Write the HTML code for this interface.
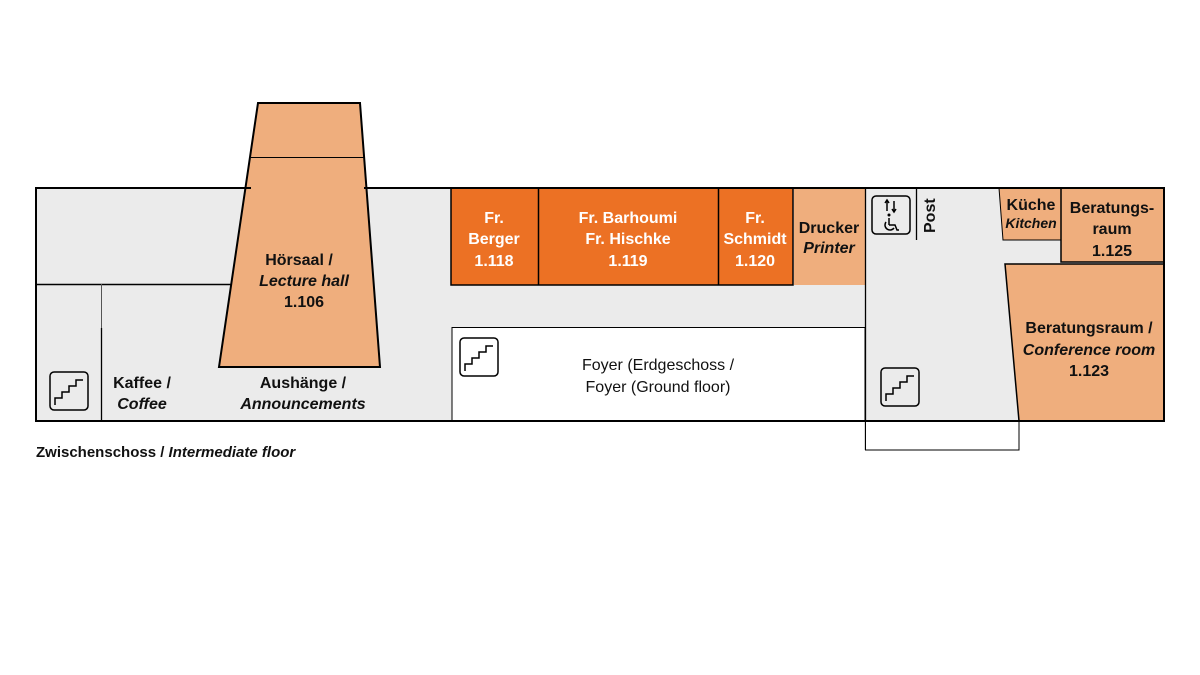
<!DOCTYPE html>
<html><head><meta charset="utf-8"><style>
html,body{margin:0;padding:0;background:#fff;width:1200px;height:675px;overflow:hidden}
svg{display:block}
text{font-family:"Liberation Sans Narrow","Liberation Sans",sans-serif;font-size:16px;fill:#111}
.b{font-weight:bold}
.i{font-style:italic}
.w{fill:#fff}
</style></head><body>
<svg width="1200" height="675" viewBox="0 0 1200 675">
<rect x="36" y="188" width="1128" height="233" fill="#ebebeb"/>
<line x1="36" y1="284.5" x2="233" y2="284.5" stroke="#000" stroke-width="1.5"/>
<line x1="101.5" y1="284" x2="101.5" y2="421" stroke="#555" stroke-width="1"/>
<line x1="101.5" y1="328" x2="101.5" y2="421" stroke="#000" stroke-width="1.3"/>
<polygon points="258,103 360,103 380,367 219,367" fill="#efae7d" stroke="#000" stroke-width="2"/>
<line x1="251" y1="157.5" x2="364" y2="157.5" stroke="#000" stroke-width="1"/>
<rect x="451" y="188" width="342" height="97" fill="#ec7124" stroke="#000" stroke-width="1.5"/>
<line x1="538.5" y1="188" x2="538.5" y2="285" stroke="#000" stroke-width="1.5"/>
<line x1="718.5" y1="188" x2="718.5" y2="285" stroke="#000" stroke-width="1.5"/>
<rect x="794" y="189" width="71" height="96" fill="#efae7d"/>
<rect x="452" y="327.5" width="413" height="93.5" fill="#fff" stroke="#000" stroke-width="1"/>
<line x1="865.5" y1="188" x2="865.5" y2="450" stroke="#000" stroke-width="1.3"/>
<rect x="865.5" y="421" width="153.5" height="29" fill="#fff" stroke="#000" stroke-width="1"/>
<line x1="916.5" y1="188" x2="916.5" y2="240" stroke="#000" stroke-width="1.3"/>
<polygon points="999,188 1061,188 1061,240 1003,240" fill="#efae7d" stroke="#000" stroke-width="1"/>
<rect x="1061" y="188" width="103" height="74" fill="#efae7d" stroke="#000" stroke-width="1.5"/>
<polygon points="1005,264 1164,264 1164,421 1019,421" fill="#efae7d" stroke="#000" stroke-width="1.5"/>
<polyline points="251,188 36,188 36,421 1164,421 1164,188 364,188" fill="none" stroke="#000" stroke-width="2"/>
<g fill="none" stroke="#000" stroke-width="1.5">
<rect x="50" y="372" width="38" height="38" rx="4"/>
<polyline points="55,405 55,398 62,398 62,392 69,392 69,386 76,386 76,380 83,380"/>
<rect x="460" y="338" width="38" height="38" rx="4"/>
<polyline points="465,371 465,364 472,364 472,358 479,358 479,352 486,352 486,346 493,346"/>
<rect x="881" y="368" width="38" height="38" rx="4"/>
<polyline points="886,401 886,394 893,394 893,388 900,388 900,382 907,382 907,376 914,376"/>
<rect x="872" y="196" width="38" height="38" rx="4"/>
<!-- arrows -->
<line x1="887" y1="201" x2="887" y2="211"/><polyline points="885,203 887,200 889,203"/>
<line x1="894" y1="201" x2="894" y2="211"/><polyline points="892,209 894,212 896,209"/>
<!-- wheelchair -->
<line x1="889" y1="218" x2="889" y2="225"/>
<polyline points="889,225 895,225 897,230 899,230"/>
<path d="M886,222 a5,5 0 1,0 8,6"/>
</g>
<circle cx="889" cy="215" r="1.5" fill="#000"/>
<text x="299" y="265" text-anchor="middle" class="b">Hörsaal /</text>
<text x="304" y="286" text-anchor="middle" class="b i">Lecture hall</text>
<text x="304" y="307" text-anchor="middle" class="b">1.106</text>
<text x="142" y="388" text-anchor="middle" class="b">Kaffee /</text>
<text x="142" y="409" text-anchor="middle" class="b i">Coffee</text>
<text x="303" y="388" text-anchor="middle" class="b">Aushänge /</text>
<text x="303" y="409" text-anchor="middle" class="b i">Announcements</text>
<text x="494" y="223" text-anchor="middle" class="b w">Fr.</text>
<text x="494" y="244" text-anchor="middle" class="b w">Berger</text>
<text x="494" y="266" text-anchor="middle" class="b w">1.118</text>
<text x="628" y="223" text-anchor="middle" class="b w">Fr. Barhoumi</text>
<text x="628" y="244" text-anchor="middle" class="b w">Fr. Hischke</text>
<text x="628" y="266" text-anchor="middle" class="b w">1.119</text>
<text x="755" y="223" text-anchor="middle" class="b w">Fr.</text>
<text x="755" y="244" text-anchor="middle" class="b w">Schmidt</text>
<text x="755" y="266" text-anchor="middle" class="b w">1.120</text>
<text x="829" y="233" text-anchor="middle" class="b">Drucker</text>
<text x="829" y="253" text-anchor="middle" class="b i">Printer</text>
<text x="658" y="370" text-anchor="middle">Foyer (Erdgeschoss /</text>
<text x="658" y="392" text-anchor="middle">Foyer (Ground floor)</text>
<text transform="translate(935,233) rotate(-90)" class="b">Post</text>
<text x="1031" y="210" text-anchor="middle" class="b">Küche</text>
<text x="1031" y="228" text-anchor="middle" class="b i" style="font-size:14px">Kitchen</text>
<text x="1112" y="213" text-anchor="middle" class="b">Beratungs-</text>
<text x="1112" y="234" text-anchor="middle" class="b">raum</text>
<text x="1112" y="256" text-anchor="middle" class="b">1.125</text>
<text x="1089" y="333" text-anchor="middle" class="b">Beratungsraum /</text>
<text x="1089" y="355" text-anchor="middle" class="b i">Conference room</text>
<text x="1089" y="376" text-anchor="middle" class="b">1.123</text>
<text x="36" y="457" class="b" style="font-size:15px">Zwischenschoss / <tspan class="i">Intermediate floor</tspan></text>
</svg>
</body></html>
